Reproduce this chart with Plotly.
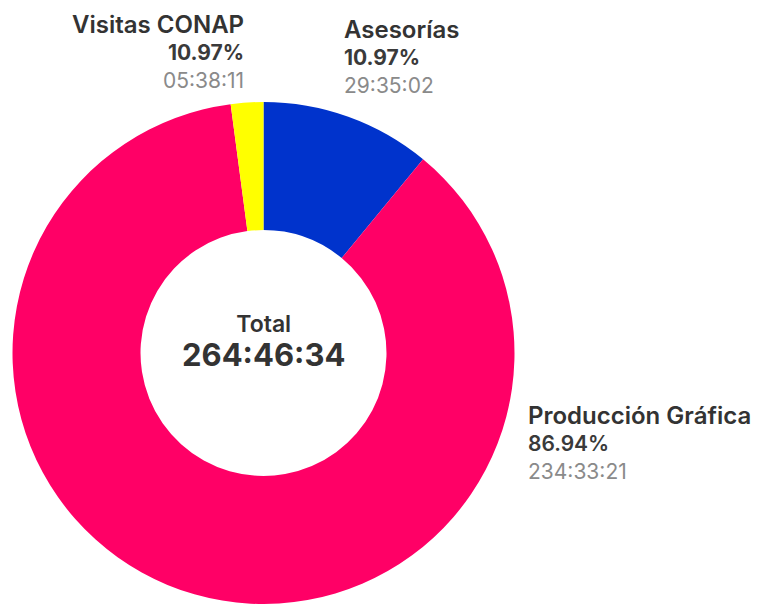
import plotly.graph_objects as go

# Hours by activity (HHH:MM:SS), clockwise from 12 o'clock
categories = ["Asesorías", "Producción Gráfica", "Visitas CONAP"]
durations = ["29:35:02", "234:33:21", "05:38:11"]
percent_labels = ["10.97%", "86.94%", "10.97%"]
colors = ["#0033CC", "#FF0066", "#FFFF00"]
total_label = "264:46:34"

W, H = 767, 604


def to_seconds(s):
    h, m, sec = (int(p) for p in s.split(":"))
    return h * 3600 + m * 60 + sec


values = [to_seconds(d) for d in durations]

# Pie geometry in pixels
cx, r = 263.5, 251

fig = go.Figure(
    go.Pie(
        labels=categories,
        values=values,
        marker=dict(colors=colors, line=dict(width=0)),
        hole=0.49,
        sort=False,
        direction="clockwise",
        rotation=0,
        textinfo="none",
        hoverinfo="label+percent",
        showlegend=False,
        domain=dict(x=[(cx - r) / W, (cx + r) / W], y=[0, 2 * r / H]),
    )
)

FONT = "Inter"


def span(text, size, color, weight):
    return (f"<span style='font-size:{size}px;color:{color};"
            f"font-weight:{weight}'>{text}</span>")


def add_block(lines, x, y, base, anchor):
    fig.add_annotation(
        text="<br>".join(lines), x=x / W, y=1 - y / H,
        xref="paper", yref="paper", xanchor=anchor, yanchor="middle",
        align=anchor if anchor != "center" else "center",
        showarrow=False, font=dict(family=FONT, size=base, color="#333333"),
    )


# Slice callouts: name, share, duration (y = middle line)
label_pos = {
    "Visitas CONAP": (246, 51, "right"),
    "Asesorías": (342, 57, "left"),
    "Producción Gráfica": (526, 442, "left"),
}
for name, pct, dur in zip(categories, percent_labels, durations):
    x, ym, anchor = label_pos[name]
    pct_w = 600 if name == "Producción Gráfica" else 700
    add_block(
        [span(name, 24, "#333333", 600),
         span(pct, 21, "#3a3a3a", pct_w),
         span(dur, 21, "#8a8a8a", 400)],
        x, ym, 21, anchor,
    )

# Centre total
add_block([span("Total", 23, "#333333", 600),
           span(total_label, 31, "#333333", 700)],
          cx, 341, 26, "center")

fig.update_layout(
    width=W, height=H,
    margin=dict(l=0, r=0, t=0, b=0),
    paper_bgcolor="white", plot_bgcolor="white",
)

fig.write_html("out.html")
